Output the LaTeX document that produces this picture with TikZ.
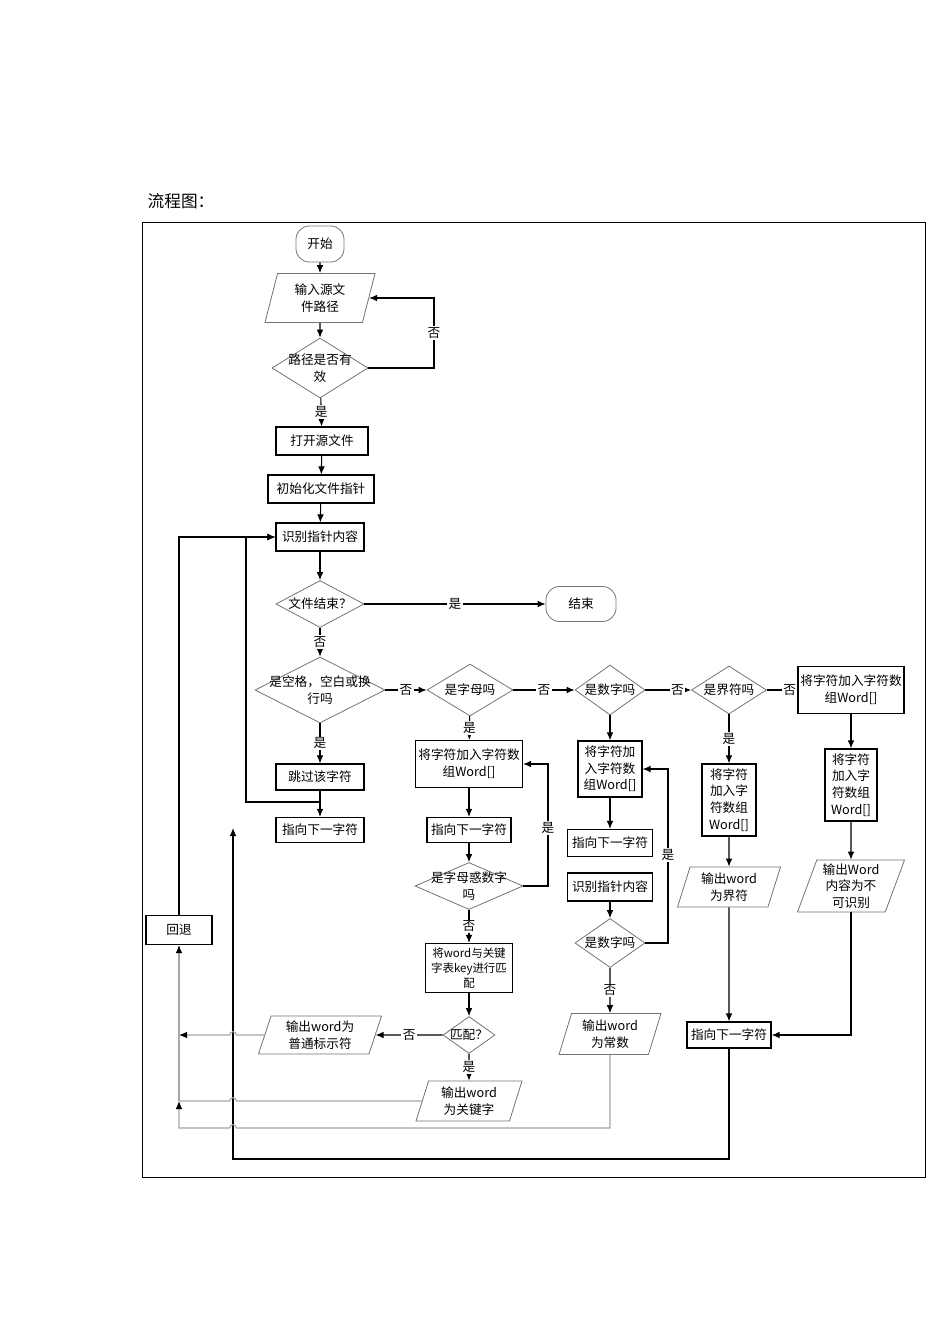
\documentclass[tikz,border=0pt]{standalone}
\usepackage{fontspec}
\setmainfont{Noto Sans CJK SC}
\usepackage{tikz}
\usetikzlibrary{shapes.geometric, arrows.meta, positioning, calc}

\begin{document}
\begin{tikzpicture}[
    x=0.75pt, y=-0.75pt,
    font=\fontsize{9.5}{12.5}\selectfont,
    box/.style={rectangle, draw, line width=0.9pt, align=center, inner sep=1pt},
    decision/.style={diamond, draw=black!55, line width=0.6pt, inner sep=0pt},
    io/.style={trapezium, trapezium left angle=68, trapezium right angle=112, trapezium stretches body, draw=black!55, line width=0.6pt, align=center, inner sep=1pt},
    terminal/.style={rectangle, rounded corners=10pt, draw=black!55, line width=0.6pt},
    dtext/.style={align=center, inner sep=0pt},
    lbl/.style={fill=white, inner sep=1pt},
    arrow/.style={-{Latex[length=6pt, width=5pt]}, line width=0.8pt},
    gline/.style={draw=black!35, line width=0.8pt},
    garrow/.style={gline, -{Latex[length=6pt, width=5pt, color=black]}}
]
    \useasboundingbox (0,0) rectangle (950,1344);

    % title and frame
    \node[anchor=west, font=\fontsize{12.5}{15}\selectfont] (title) at (143,201) {流程图：};
    \draw[line width=0.6pt] (142,222) rectangle (925,1177);

    % main column
    \node[terminal, minimum width=36pt, minimum height=27pt] (start) at (320,244) {开始};
    \node[io, minimum width=82.5pt, minimum height=36.75pt] (input) at (320,298) {输入源文\\件路径};
    \node[decision, minimum width=72pt, minimum height=45pt, label={[dtext]center:{路径是否有\\效}}] (valid) at (320,368) {};
    \node[box, minimum width=69pt, minimum height=21pt] (open) at (322,441) {打开源文件};
    \node[box, minimum width=79.5pt, minimum height=21pt] (init) at (321,489) {初始化文件指针};
    \node[box, minimum width=66pt, minimum height=21pt] (read) at (320,537) {识别指针内容};
    \node[decision, minimum width=66pt, minimum height=35.25pt, label={[dtext]center:文件结束？}] (eof) at (320,604) {};
    \node[terminal, minimum width=52.5pt, minimum height=26.25pt] (end) at (581,604) {结束};
    \node[decision, minimum width=97.5pt, minimum height=49.5pt, label={[dtext]center:{是空格，空白或换\\行吗}}] (space) at (320,690) {};
    \node[box, minimum width=66pt, minimum height=19.5pt] (skip) at (320,777) {跳过该字符};
    \node[box, minimum width=66pt, minimum height=18.75pt] (next1) at (320,830) {指向下一字符};
    \node[box, minimum width=49.5pt, minimum height=21.75pt] (back) at (179,930) {回退};

    % letter column
    \node[decision, minimum width=64.5pt, minimum height=39pt, label={[dtext]center:是字母吗}] (letter) at (470,690) {};
    \node[box, minimum width=80.25pt, minimum height=35.25pt] (add1) at (469,764) {将字符加入字符数\\组Word[]};
    \node[box, minimum width=63pt, minimum height=18.75pt] (next2) at (469,830) {指向下一字符};
    \node[decision, minimum width=81pt, minimum height=35.25pt, label={[dtext]center:{是字母惑数字\\吗}}] (alnum) at (469,886) {};
    \node[box, minimum width=65.25pt, minimum height=36.75pt, font=\fontsize{8.6}{11.5}\selectfont] (cmp) at (469,968) {将word与关键\\字表key进行匹\\配};
    \node[decision, minimum width=39pt, minimum height=27.75pt, label={[dtext]center:匹配？}] (match) at (469,1035) {};
    \node[io, minimum width=92.25pt, minimum height=28.5pt] (normal) at (320,1035) {输出word为\\普通标示符};
    \node[io, minimum width=79.5pt, minimum height=30pt] (keyword) at (469,1101) {输出word\\为关键字};

    % digit column
    \node[decision, minimum width=52.5pt, minimum height=37.5pt, label={[dtext]center:是数字吗}] (digit) at (610,690) {};
    \node[box, minimum width=48pt, minimum height=42pt] (add2) at (610,769) {将字符加\\入字符数\\组Word[]};
    \node[box, minimum width=63.75pt, minimum height=20.25pt] (next3) at (610,843) {指向下一字符};
    \node[box, minimum width=63.75pt, minimum height=21pt] (read2) at (610,887) {识别指针内容};
    \node[decision, minimum width=52.5pt, minimum height=36.75pt, label={[dtext]center:是数字吗}] (digit2) at (610,943) {};
    \node[io, minimum width=76.5pt, minimum height=30.75pt] (const) at (610,1034) {输出word\\为常数};

    % delimiter column
    \node[decision, minimum width=56.25pt, minimum height=36pt, label={[dtext]center:是界符吗}] (delim) at (729,690) {};
    \node[box, minimum width=40.5pt, minimum height=54pt] (add3) at (729,800) {将字符\\加入字\\符数组\\Word[]};
    \node[io, minimum width=77.25pt, minimum height=30pt] (delimout) at (729,887) {输出word\\为界符};
    \node[box, minimum width=63pt, minimum height=19.5pt] (next4) at (729,1035) {指向下一字符};

    % other column
    \node[box, minimum width=79.5pt, minimum height=35.25pt] (add4a) at (851,690) {将字符加入字符数\\组Word[]};
    \node[box, minimum width=39pt, minimum height=54pt] (add4b) at (851,785) {将字符\\加入字\\符数组\\Word[]};
    \node[io, minimum width=80.25pt, minimum height=39pt] (unknown) at (851,886) {输出Word\\内容为不\\可识别};

    % bends
    \coordinate (noloop) at (434,333);
    \coordinate (skiploop) at (246,802);
    \coordinate (alnumloop) at (548,828);
    \coordinate (digitloop) at (668,855);
    \coordinate (rettip) at (233,828);
    \coordinate (retcorner) at (233,1159);
    \coordinate (backcorner) at (179,1128);

    % arrows
    \draw[arrow] (start) -- (input);
    \draw[arrow] (input) -- (valid);
    \draw[arrow] (valid.east) -| (noloop) node[lbl] {否} |- (input.east);
    \draw[arrow] (valid) -- node[lbl] {是} (open);
    \draw[arrow] (open) -- (init);
    \draw[arrow] (init) -- (read);
    \draw[arrow] (read) -- (eof);
    \draw[arrow] (eof) -- node[lbl] {是} (end);
    \draw[arrow] (eof) -- node[lbl] {否} (space);
    \draw[arrow] (space) -- node[lbl] {否} (letter);
    \draw[arrow] (letter) -- node[lbl] {否} (digit);
    \draw[arrow] (digit) -- node[lbl, pos=0.7] {否} (delim);
    \draw[arrow] (delim) -- node[lbl, pos=0.75] {否} (add4a);

    \draw[arrow] (space) -- node[lbl] {是} (skip);
    \draw[arrow] (skip) -- (next1);
    \draw[arrow] (skip.south |- skiploop) -- (skiploop) |- (read.west);
    \draw[arrow] (back) |- (read.west);

    \draw[arrow] (letter) -- node[lbl] {是} (add1);
    \draw[arrow] (add1) -- (next2);
    \draw[arrow] (next2) -- (alnum);
    \draw[arrow] (alnum.east) -| (alnumloop) node[lbl] {是} |- (add1.east);
    \draw[arrow] (alnum) -- node[lbl] {否} (cmp);
    \draw[arrow] (cmp) -- (match);
    \draw[arrow] (match.west) -- node[lbl] {否} (normal.east);
    \draw[arrow] (match) -- node[lbl] {是} (keyword);

    \draw[arrow] (digit) -- (add2);
    \draw[arrow] (add2) -- (next3);
    \draw[arrow] (read2) -- (digit2);
    \draw[arrow] (digit2.east) -| (digitloop) node[lbl] {是} |- (add2.east);
    \draw[arrow] (digit2) -- node[lbl] {否} (const);

    \draw[arrow] (delim) -- node[lbl] {是} (add3);
    \draw[arrow] (add3) -- (delimout);
    \draw[arrow] (delimout) -- (next4);
    \draw[arrow] (add4a) -- (add4b);
    \draw[arrow] (add4b) -- (unknown);
    \draw[arrow] (unknown.south) |- (next4.east);
    \draw[arrow] (next4.south) |- (retcorner) -- (rettip);

    % grey returns to 回退
    \draw[garrow] (normal.west) -- ($(rettip |- normal.west)+(2.5pt,0)$) arc[start angle=0, end angle=180, radius=2.5pt] -- (back |- normal.west);
    \draw[gline] (keyword.west) -- ($(rettip |- keyword.west)+(2.5pt,0)$) arc[start angle=0, end angle=180, radius=2.5pt] -- (back |- keyword.west);
    \draw[garrow] (const.south) |- ($(rettip |- backcorner)+(2.5pt,0)$) arc[start angle=0, end angle=180, radius=2.5pt] -- (backcorner) -- (back |- keyword.west);
    \draw[garrow] (back |- keyword.west) -- (back);
\end{tikzpicture}
\end{document}
